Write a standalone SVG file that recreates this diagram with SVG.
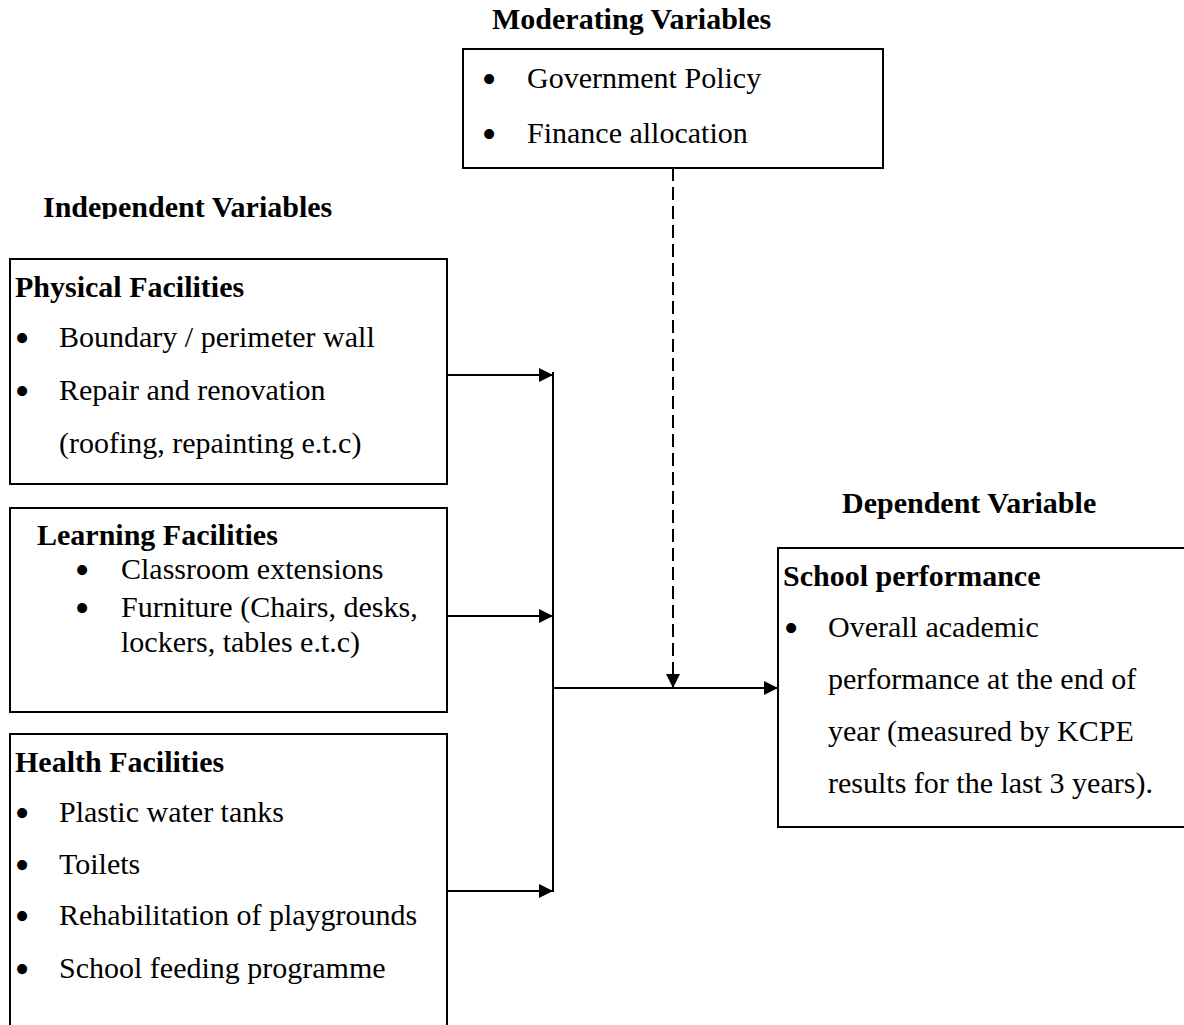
<svg xmlns="http://www.w3.org/2000/svg" width="1184" height="1025" viewBox="0 0 1184 1025">
<style>
text{font-family:"Liberation Serif","Times New Roman",serif;font-size:30px;fill:#000}
.b{font-weight:bold}
.bul{text-anchor:middle;font-size:42px}
.box{fill:#fff;stroke:#000;stroke-width:2}
.ln{stroke:#000;stroke-width:2;fill:none}
.dash{stroke:#000;stroke-width:2;fill:none;stroke-dasharray:13 6}
</style>
<defs>
<marker id="ah" markerUnits="userSpaceOnUse" markerWidth="14" markerHeight="14" refX="14" refY="7" orient="auto">
<path d="M0,0 L14,7 L0,14 z" fill="#000"/>
</marker>
<clipPath id="clipInd"><rect x="0" y="180" width="460" height="39"/></clipPath>
</defs>
<rect width="1184" height="1025" fill="#fff"/>

<text class="b" x="492" y="29">Moderating Variables</text>
<text class="b" x="43" y="217" clip-path="url(#clipInd)">Independent Variables</text>
<text class="b" x="842" y="513">Dependent Variable</text>

<g id="moderating">
<rect class="box" x="463" y="49" width="420" height="119"/>
<text class="bul" x="489" y="93">•</text>
<text x="527" y="88">Government Policy</text>
<text class="bul" x="489" y="148">•</text>
<text x="527" y="143">Finance allocation</text>
</g>

<g id="physical">
<rect class="box" x="10" y="259" width="437" height="225"/>
<text class="b" x="15" y="297">Physical Facilities</text>
<text class="bul" x="22" y="352">•</text>
<text x="59" y="347">Boundary / perimeter wall</text>
<text class="bul" x="22" y="405">•</text>
<text x="59" y="400">Repair and renovation</text>
<text x="59" y="453">(roofing, repainting e.t.c)</text>
</g>

<g id="learning">
<rect class="box" x="10" y="508" width="437" height="204"/>
<text class="b" x="37" y="545">Learning Facilities</text>
<text class="bul" x="82" y="584">•</text>
<text x="121" y="579">Classroom extensions</text>
<text class="bul" x="82" y="622">•</text>
<text x="121" y="617">Furniture (Chairs, desks,</text>
<text x="121" y="652">lockers, tables e.t.c)</text>
</g>

<g id="health">
<rect class="box" x="10" y="734" width="437" height="310"/>
<text class="b" x="15" y="772">Health Facilities</text>
<text class="bul" x="22" y="827">•</text>
<text x="59" y="822">Plastic water tanks</text>
<text class="bul" x="22" y="879">•</text>
<text x="59" y="874">Toilets</text>
<text class="bul" x="22" y="930">•</text>
<text x="59" y="925">Rehabilitation of playgrounds</text>
<text class="bul" x="22" y="983">•</text>
<text x="59" y="978">School feeding programme</text>
</g>

<g id="dependent">
<rect class="box" x="778" y="548" width="420" height="279"/>
<text class="b" x="783" y="586">School performance</text>
<text class="bul" x="791" y="642">•</text>
<text x="828" y="637">Overall academic</text>
<text x="828" y="689">performance at the end of</text>
<text x="828" y="741">year (measured by KCPE</text>
<text x="828" y="793">results for the last 3 years).</text>
</g>

<g id="connectors">
<line class="ln" x1="447" y1="375" x2="553" y2="375" marker-end="url(#ah)"/>
<line class="ln" x1="447" y1="616" x2="553" y2="616" marker-end="url(#ah)"/>
<line class="ln" x1="447" y1="891" x2="553" y2="891" marker-end="url(#ah)"/>
<line class="ln" x1="553" y1="372" x2="553" y2="892"/>
<line class="ln" x1="553" y1="688" x2="778" y2="688" marker-end="url(#ah)"/>
<line class="dash" x1="673" y1="168" x2="673" y2="688" marker-end="url(#ah)"/>
</g>
</svg>
